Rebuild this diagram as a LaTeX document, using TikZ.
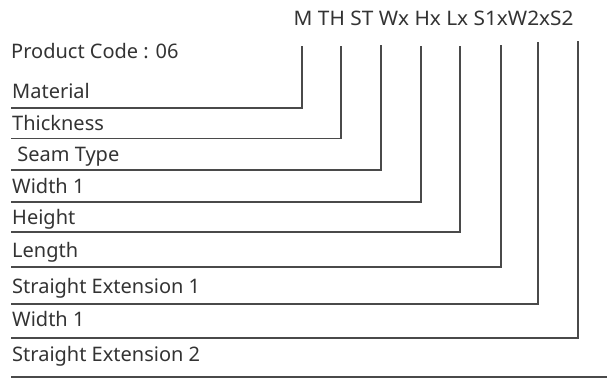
\documentclass[tikz,border=0pt]{standalone}
\usepackage{fontspec}
\setmainfont{Noto Sans}
\definecolor{txt}{HTML}{333333}
\definecolor{ln}{HTML}{4A4A4A}
\tikzset{
  lbl/.style={anchor=base west, inner sep=0pt, text=txt, font=\fontsize{20}{22}\selectfont},
  hdr/.style={anchor=base west, inner sep=0pt, text=txt, font=\fontsize{20}{22}\selectfont},
  link/.style={draw=ln, line width=1.9pt, line join=miter}
}
\begin{document}
\begin{tikzpicture}[x=1pt,y=-1pt]
\useasboundingbox (0,0) rectangle (607,379);
% header
\node[hdr] (code) at (293.5,26) {\scalebox{1.04}[1]{M TH ST Wx Hx Lx S1xW2xS2}};
% labels
\node[lbl] (pc) at (11,59) {Product Code : 06};
\node[lbl] (l1) at (12,99) {Material};
\node[lbl] (l2) at (12,130.7) {Thickness};
\node[lbl] (l3) at (12,161.7) {\ Seam Type};
\node[lbl] (l4) at (12,194) {Width 1};
\node[lbl] (l5) at (12,225) {Height};
\node[lbl] (l6) at (12,257.3) {Length};
\node[lbl] (l7) at (12,293.3) {Straight Extension 1};
\node[lbl] (l8) at (12,326.7) {Width 1};
\node[lbl] (l9) at (12,361.7) {Straight Extension 2};
% line starts
\coordinate (s1) at (11,107.7);
\coordinate (s2) at (11,138.5);
\coordinate (s3) at (11,170);
\coordinate (s4) at (11,202.3);
\coordinate (s5) at (11,232.3);
\coordinate (s6) at (11,266.7);
\coordinate (s7) at (11,304.3);
\coordinate (s8) at (11,337.8);
\coordinate (s9) at (11,376.7);
% corners
\coordinate (c1) at (301.7,107.7);
\coordinate (c2) at (340.7,138.5);
\coordinate (c3) at (381,170);
\coordinate (c4) at (421.3,202.3);
\coordinate (c5) at (460.3,232.3);
\coordinate (c6) at (500.7,266.7);
\coordinate (c7) at (538.3,304.3);
\coordinate (c8) at (578.3,337.8);
\coordinate (e9) at (607,376.7);
% tops
\coordinate (t1) at (301.7,46);
\coordinate (t2) at (340.7,46);
\coordinate (t3) at (381,45);
\coordinate (t4) at (421.3,46);
\coordinate (t5) at (460.3,46);
\coordinate (t6) at (500.7,45);
\coordinate (t7) at (538.3,42);
\coordinate (t8) at (578.3,41);
\draw[link] (s1) -- (c1) -- (t1);
\draw[link] (s2) -- (c2) -- (t2);
\draw[link] (s3) -- (c3) -- (t3);
\draw[link] (s4) -- (c4) -- (t4);
\draw[link] (s5) -- (c5) -- (t5);
\draw[link] (s6) -- (c6) -- (t6);
\draw[link] (s7) -- (c7) -- (t7);
\draw[link] (s8) -- (c8) -- (t8);
\draw[link] (s9) -- (e9);
\end{tikzpicture}
\end{document}
